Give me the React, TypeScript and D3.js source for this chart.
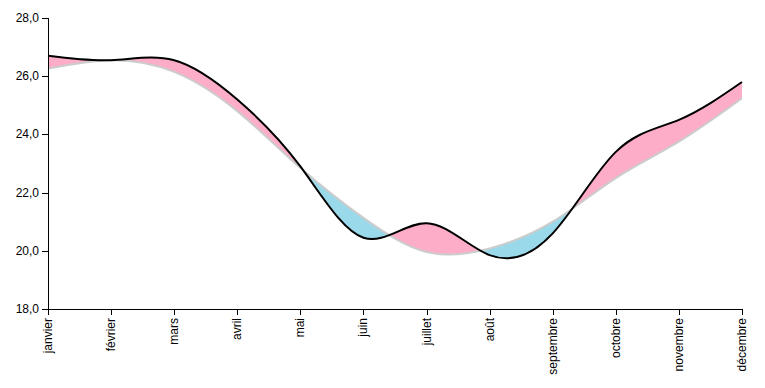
import * as d3 from "d3";

const months = ["janvier", "février", "mars", "avril", "mai", "juin", "juillet", "août", "septembre", "octobre", "novembre", "décembre"];
const actual = [26.7, 26.55, 26.55, 25.2, 22.9, 20.45, 20.95, 19.85, 20.6, 23.4, 24.5, 25.8];
const normal = [26.26, 26.55, 26.15, 24.8, 22.85, 21.13, 19.96, 20.08, 21.0, 22.5, 23.75, 25.24];
const yTicks = [18, 20, 22, 24, 26, 28];

const W = 765, H = 388;
const m = { top: 18, right: 23, bottom: 79, left: 48 };

export default function App() {
  const x = d3.scalePoint<string>().domain(months).range([m.left, W - m.right]);
  const y = d3.scaleLinear().domain([18, 28]).range([H - m.bottom, m.top]);
  const fmt = (v: number) => d3.format(".1f")(v).replace(".", ",");
  const curve = d3.curveNatural;
  const idx = d3.range(months.length);
  const px = (i: number) => x(months[i]) as number;

  const line = (vals: number[]) => d3.line<number>().x(px).y((i) => y(vals[i])).curve(curve)(idx) as string;
  const between = d3.area<number>().x(px).y0((i) => y(normal[i])).y1((i) => y(actual[i])).curve(curve)(idx) as string;
  const clipAbove = d3.area<number>().x(px).y0(0).y1((i) => y(normal[i])).curve(curve)(idx) as string;
  const clipBelow = d3.area<number>().x(px).y0(H).y1((i) => y(normal[i])).curve(curve)(idx) as string;

  const y0 = H - m.bottom;
  return (
    <svg width={W} height={H} style={{ position: "absolute", left: 0, top: 0 }} fontFamily="Liberation Sans, Arial, sans-serif" fontSize={12}>
      <defs>
        <clipPath id="above"><path d={clipAbove} /></clipPath>
        <clipPath id="below"><path d={clipBelow} /></clipPath>
      </defs>
      <path d={between} fill="#fdadc7" clipPath="url(#above)" />
      <path d={between} fill="#9ad9e9" clipPath="url(#below)" />
      <path d={line(normal)} fill="none" stroke="#cccccc" strokeWidth={2} />
      <path d={line(actual)} fill="none" stroke="#000" strokeWidth={2} />
      <g>
        <line x1={m.left + 0.5} x2={m.left + 0.5} y1={m.top} y2={y0 + 0.5} stroke="#000" />
        {yTicks.map((t) => (
          <g key={t} transform={`translate(0,${Math.round(y(t)) + 0.5})`}>
            <line x1={m.left - 6} x2={m.left} stroke="#000" />
            <text x={m.left - 9} dy="0.32em" textAnchor="end" fill="#000">{fmt(t)}</text>
          </g>
        ))}
      </g>
      <g>
        <line x1={m.left} x2={W - m.right + 0.5} y1={y0 + 0.5} y2={y0 + 0.5} stroke="#000" />
        {months.map((mo) => (
          <g key={mo} transform={`translate(${Math.round(x(mo) as number) + 0.5},${y0})`}>
            <line y1={0} y2={6} stroke="#000" />
            <text transform="rotate(-90)" x={-9} dy="0.32em" textAnchor="end" fill="#000">{mo}</text>
          </g>
        ))}
      </g>
    </svg>
  );
}
